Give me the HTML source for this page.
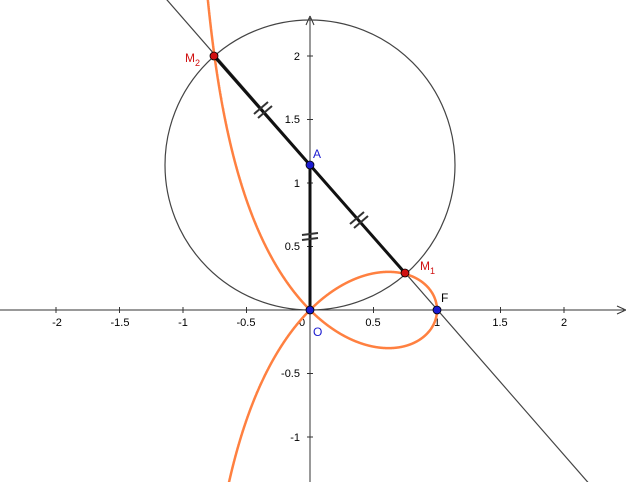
<!DOCTYPE html>
<html><head><meta charset="utf-8"><style>
html,body{margin:0;padding:0;background:#fff;width:626px;height:482px;overflow:hidden;}
svg{display:block;font-family:"Liberation Sans",sans-serif;}
</style></head><body>
<svg id="s" width="626" height="482" viewBox="0 0 626 482" xmlns="http://www.w3.org/2000/svg">
<rect width="626" height="482" fill="#fff"/>
<line x1="0" y1="310" x2="624" y2="310" stroke="#333" stroke-width="1"/>
<path d="M626 310 L617 306 M626 310 L617 314" stroke="#333" fill="none"/>
<line x1="310" y1="482" x2="310" y2="18" stroke="#333" stroke-width="1"/>
<path d="M310 16 L306 25 M310 16 L314 25" stroke="#333" fill="none"/>
<g id="ticks" stroke="#333"></g>
<g font-size="11" fill="#000" text-anchor="middle">
<text x="57" y="326">-2</text><text x="120" y="326">-1.5</text><text x="183" y="326">-1</text>
<text x="246" y="326">-0.5</text><text x="302" y="326">0</text><text x="373" y="326">0.5</text>
<text x="437" y="326">1</text><text x="500" y="326">1.5</text><text x="564" y="326">2</text>
</g>
<g font-size="11" fill="#000" text-anchor="end">
<text x="300" y="60">2</text><text x="300" y="123">1.5</text><text x="300" y="187">1</text>
<text x="300" y="250">0.5</text><text x="300" y="377">-0.5</text><text x="300" y="441">-1</text>
</g>
<circle cx="310" cy="165" r="145" fill="none" stroke="#444" stroke-width="1.2"/>
<line x1="155.7" y1="-13" x2="590" y2="484.7" stroke="#444" stroke-width="1.2"/>
<path id="c1" fill="none" stroke="#ff8040" stroke-width="2.5"/>
<path id="c2" fill="none" stroke="#ff8040" stroke-width="2.5"/>
<line x1="214" y1="56" x2="405" y2="273" stroke="#111" stroke-width="3"/>
<line x1="310" y1="310" x2="310" y2="165" stroke="#111" stroke-width="3"/>
<g stroke="#333" stroke-width="2">
<path d="M254 114 L268 102 M258 118 L272 106"/>
<path d="M350 224 L364 212 M354 228 L368 216"/>
<path d="M302 235 L318 233 M302 240 L318 238"/>
</g>
<circle cx="310" cy="310" r="4" fill="#1a1ad0" stroke="#000" stroke-width="0.8"/>
<circle cx="310" cy="165" r="4" fill="#1a1ad0" stroke="#000" stroke-width="0.8"/>
<circle cx="437" cy="310" r="4" fill="#1a1ad0" stroke="#000" stroke-width="0.8"/>
<circle cx="405" cy="273" r="4" fill="#d01010" stroke="#000" stroke-width="0.8"/>
<circle cx="214" cy="56" r="4" fill="#d01010" stroke="#000" stroke-width="0.8"/>
<g font-size="12">
<text x="313" y="158" fill="#1a1ad0">A</text>
<text x="313" y="336" fill="#1a1ad0">O</text>
<text x="441" y="302" fill="#000">F</text>
<text x="420" y="270" fill="#d01010">M<tspan font-size="9" dy="4">1</tspan></text>
<text x="185" y="62" fill="#d01010">M<tspan font-size="9" dy="4">2</tspan></text>
</g>
</svg>
<script>
(function(){
var ox=310,oy=310,k=127;
var t=document.getElementById('ticks'),h='';
for(var i=-4;i<=4;i++){if(i==0)continue;var x=ox+i*k/2;h+='<line x1="'+x+'" y1="307" x2="'+x+'" y2="313"/>';}
for(var j=-2;j<=4;j++){if(j==0)continue;var y=oy-j*k/2;h+='<line x1="307" y1="'+y+'" x2="313" y2="'+y+'"/>';}
t.innerHTML=h;
function br(sg){var d='',first=true;
for(var u=-1.5704;u<=1.5704;u+=0.0005){var tt=Math.tan(u),s=Math.sqrt(1+tt*tt);
var x=sg*tt/s,y=tt-sg*tt*tt/s;var px=ox+x*k,py=oy-y*k;
if(py<-50||py>540){first=true;continue;}
d+=(first?'M':'L')+px.toFixed(2)+' '+py.toFixed(2)+' ';first=false;}
return d;}
document.getElementById('c1').setAttribute('d',br(1));
document.getElementById('c2').setAttribute('d',br(-1));
})();
</script>
</body></html>
